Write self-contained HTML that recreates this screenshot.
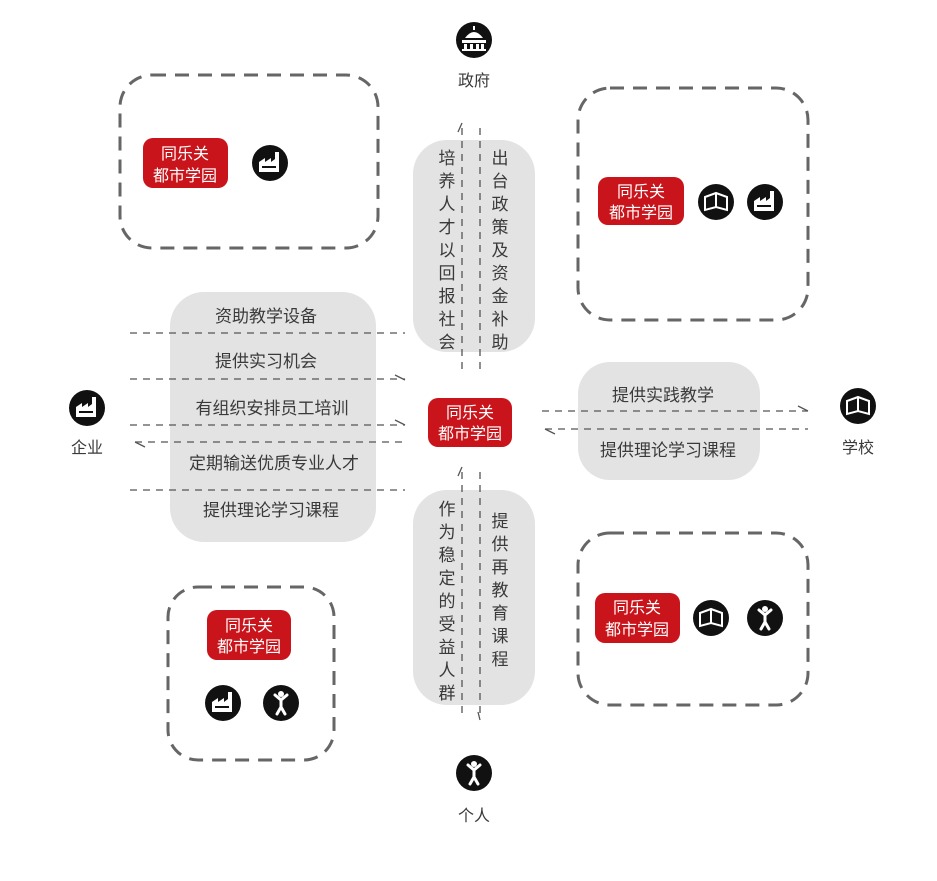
<!DOCTYPE html>
<html><head><meta charset="utf-8"><style>
html,body{margin:0;padding:0;background:#fff;}
svg{display:block;}
text{font-family:"Liberation Sans","Noto Sans CJK SC",sans-serif;fill:#3a3a3a;}
.r{fill:#fff;font-size:16px;}
</style></head><body>
<svg width="937" height="881" viewBox="0 0 937 881" xmlns="http://www.w3.org/2000/svg">
<defs>
<g id="fac"><circle r="18" fill="#111"/><path d="M-11,9 V-1 L-5,-5 V-1 L1,-5 V-1 L5,-4 V-11 H9 V9 Z" fill="#fff"/><rect x="-8" y="3" width="14" height="2" fill="#111"/></g>
<g id="book"><circle r="18" fill="#111"/><path d="M-11,-5 L0,-9 L11,-5 V8 L0,5 L-11,8 Z" fill="none" stroke="#fff" stroke-width="2"/><path d="M0,-8 V5" stroke="#fff" stroke-width="2"/></g>
<g id="per"><circle r="18" fill="#111"/><circle cx="0" cy="-9" r="3" fill="#fff"/><path d="M-6,-8 L0,-3 L6,-8 M0,-4 V4 L-4,11 M0,4 L4,11" stroke="#fff" stroke-width="3" fill="none" stroke-linecap="round"/></g>
<g id="gov"><circle r="18" fill="#111"/><path d="M-9,-2 Q0,-14 9,-2 Z" fill="#fff"/><rect x="-1" y="-14" width="2" height="4" fill="#fff"/><rect x="-12" y="0" width="24" height="3" fill="#fff"/><rect x="-10" y="4" width="3" height="5" fill="#fff"/><rect x="-4" y="4" width="3" height="5" fill="#fff"/><rect x="2" y="4" width="3" height="5" fill="#fff"/><rect x="7" y="4" width="3" height="5" fill="#fff"/><rect x="-12" y="9" width="24" height="2" fill="#fff"/></g>
</defs>
<g fill="none" stroke="#666" stroke-width="3" stroke-dasharray="14,9">
<rect x="120" y="75" width="258" height="173" rx="32"/>
<rect x="578" y="88" width="230" height="232" rx="32"/>
<rect x="168" y="587" width="166" height="173" rx="30"/>
<rect x="578" y="533" width="230" height="172" rx="32"/>
</g>
<g fill="#e3e3e3">
<rect x="413" y="140" width="122" height="212" rx="34"/>
<rect x="413" y="490" width="122" height="215" rx="34"/>
<rect x="170" y="292" width="206" height="250" rx="34"/>
<rect x="578" y="362" width="182" height="118" rx="32"/>
</g>
<g fill="#c8141a">
<rect x="143" y="138" width="85" height="50" rx="10"/>
<rect x="598" y="177" width="86" height="48" rx="10"/>
<rect x="207" y="610" width="84" height="50" rx="10"/>
<rect x="595" y="593" width="85" height="50" rx="10"/>
<rect x="428" y="398" width="84" height="49" rx="10"/>
</g>
<g text-anchor="middle">
<text class="r" x="185" y="159">同乐关</text><text class="r" x="185" y="181">都市学园</text>
<text class="r" x="641" y="197">同乐关</text><text class="r" x="641" y="218">都市学园</text>
<text class="r" x="249" y="631">同乐关</text><text class="r" x="249" y="652">都市学园</text>
<text class="r" x="637" y="613">同乐关</text><text class="r" x="637" y="635">都市学园</text>
<text class="r" x="470" y="418">同乐关</text><text class="r" x="470" y="439">都市学园</text>
</g>
<use href="#fac" x="270" y="163"/>
<use href="#book" x="716" y="202"/><use href="#fac" x="765" y="202"/>
<use href="#fac" x="223" y="703"/><use href="#per" x="281" y="703"/>
<use href="#book" x="711" y="618"/><use href="#per" x="765" y="618"/>
<use href="#gov" x="474" y="40"/>
<use href="#fac" x="87" y="408"/>
<use href="#book" x="858" y="406"/>
<use href="#per" x="474" y="773"/>
<g font-size="16" text-anchor="middle">
<text x="474" y="86">政府</text>
<text x="87" y="453">企业</text>
<text x="858" y="453">学校</text>
<text x="474" y="821">个人</text>
</g>
<g font-size="17" text-anchor="middle">
<text x="266" y="322">资助教学设备</text>
<text x="266" y="367">提供实习机会</text>
<text x="272" y="414">有组织安排员工培训</text>
<text x="274" y="469">定期输送优质专业人才</text>
<text x="271" y="516">提供理论学习课程</text>
<text x="663" y="401">提供实践教学</text>
<text x="668" y="456">提供理论学习课程</text>
</g>
<g font-size="17" text-anchor="middle">
<text x="447" y="164">培</text><text x="447" y="187">养</text><text x="447" y="210">人</text><text x="447" y="233">才</text><text x="447" y="256">以</text><text x="447" y="279">回</text><text x="447" y="302">报</text><text x="447" y="325">社</text><text x="447" y="348">会</text>
<text x="500" y="164">出</text><text x="500" y="187">台</text><text x="500" y="210">政</text><text x="500" y="233">策</text><text x="500" y="256">及</text><text x="500" y="279">资</text><text x="500" y="302">金</text><text x="500" y="325">补</text><text x="500" y="348">助</text>
<text x="447" y="515">作</text><text x="447" y="538">为</text><text x="447" y="561">稳</text><text x="447" y="584">定</text><text x="447" y="607">的</text><text x="447" y="630">受</text><text x="447" y="653">益</text><text x="447" y="676">人</text><text x="447" y="699">群</text>
<text x="500" y="527">提</text><text x="500" y="550">供</text><text x="500" y="573">再</text><text x="500" y="596">教</text><text x="500" y="619">育</text><text x="500" y="642">课</text><text x="500" y="665">程</text>
</g>
<g stroke="#555" stroke-width="1.3" stroke-dasharray="7,6" fill="none">
<path d="M130,333 H405"/><path d="M130,379 H405"/><path d="M130,425 H405"/><path d="M135,442 H405"/><path d="M130,490 H405"/>
<path d="M542,411 H808"/><path d="M545,429 H808"/>
<path d="M462,128 V370"/><path d="M480,128 V370"/>
<path d="M462,472 V718"/><path d="M480,472 V718"/>
</g>
<g stroke="#555" stroke-width="1.3" fill="none">
<path d="M395,375 L405,380"/><path d="M395,420 L405,425"/>
<path d="M135,442 L145,447"/>
<path d="M798,406 L808,411"/><path d="M545,429 L555,434"/>
<path d="M462,123 L458,132"/>
<path d="M462,467 L458,476"/><path d="M480,720 L478,712"/>
</g>
</svg>
</body></html>
